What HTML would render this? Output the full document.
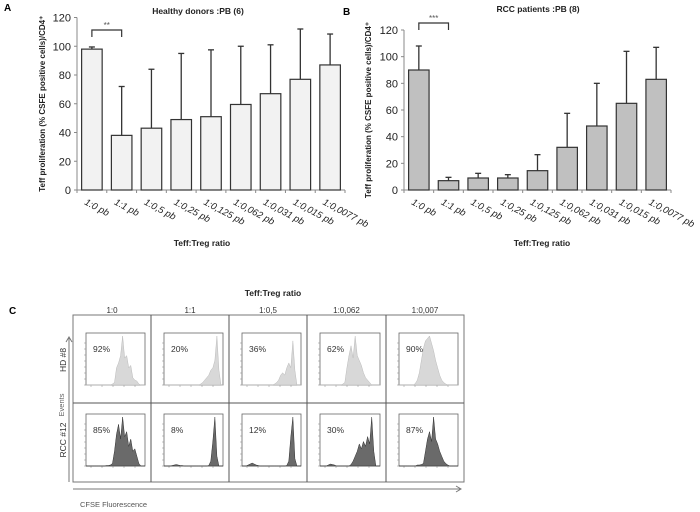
<!DOCTYPE html>
<html><head><meta charset="utf-8"><style>
body{margin:0;background:#fff}
svg{display:block;font-family:"Liberation Sans",sans-serif}
</style></head><body>
<svg id="s" width="700" height="512" viewBox="0 0 700 512">
<text x="4" y="11" font-size="10" font-weight="bold">A</text>
<text x="343" y="15" font-size="10" font-weight="bold">B</text>
<text x="9" y="314" font-size="10" font-weight="bold">C</text>
<g id="gA"></g>
<g id="gB"></g>
<g id="gC"></g>
</svg>
<script>
const categories=["1:0 pb","1:1 pb","1:0,5 pb","1:0,25 pb","1:0,125 pb","1:0,062 pb","1:0,031 pb","1:0,015 pb","1:0,0077 pb"];
const valuesA=[98,38,43,49,51,59.5,67,77,87];
const errTopA=[99.5,72,84,95,97.5,100,101,112,108.5];
const valuesB=[90,7,9,9,14.5,32,48,65,83];
const errTopB=[108,9.5,12.5,11.5,26.5,57.5,80,104,107];
const yTicks=[0,20,40,60,80,100,120];
const colLabels=["1:0","1:1","1:0,5","1:0,062","1:0,007"];
const rowLabels=["HD #8","RCC #12"];
const pctHD=["92%","20%","36%","62%","90%"];
const pctRCC=["85%","8%","12%","30%","87%"];
const histHD=[
[0,0,0,0,0,0,0,0,0,0,0,0,0,0.02,0.05,0.35,0.45,0.6,1,0.55,0.6,0.35,0.4,0.15,0.1,0.08,0.02,0,0,0],
[0,0,0,0,0,0,0,0,0,0,0,0,0,0,0,0,0,0,0.02,0.05,0.1,0.15,0.2,0.3,0.35,0.5,1,0.3,0,0],
[0,0,0,0,0,0,0,0,0,0,0,0,0,0,0,0,0.02,0.05,0.1,0.2,0.25,0.2,0.35,0.45,0.35,0.9,0.3,0,0,0],
[0,0,0,0,0,0,0,0,0,0,0,0.02,0.05,0.35,0.6,0.8,0.55,1,0.6,0.5,0.4,0.25,0.15,0.1,0.05,0,0,0,0,0],
[0,0,0,0,0,0,0,0,0.03,0.1,0.25,0.5,0.75,0.9,0.95,1,0.85,0.7,0.5,0.35,0.2,0.1,0.05,0.02,0,0,0,0,0,0]];
const histRCC=[
[0,0,0,0,0,0,0,0,0,0,0.01,0.01,0.02,0.05,0.3,0.65,0.85,0.55,1,0.6,0.7,0.4,0.55,0.3,0.35,0.2,0.05,0,0,0],
[0,0,0,0,0.01,0.02,0.03,0.02,0.01,0.01,0,0,0,0,0,0,0,0,0,0,0,0,0.01,0.1,0.5,1,0.2,0,0,0],
[0,0,0,0.02,0.04,0.06,0.04,0.02,0.01,0,0,0,0,0,0,0,0,0,0,0,0,0,0.01,0.1,0.6,1,0.15,0,0,0],
[0,0,0,0,0.02,0.04,0.03,0.02,0,0,0,0,0,0,0,0.03,0.1,0.2,0.3,0.45,0.35,0.5,0.4,0.6,0.45,1,0.3,0,0,0],
[0,0,0,0,0,0,0,0,0,0.02,0.02,0.03,0.05,0.3,0.55,0.7,0.5,1,0.55,0.45,0.3,0.2,0.1,0.05,0.02,0,0,0,0,0]];
const NS="http://www.w3.org/2000/svg";
function mk(p,t,a,txt){const e=document.createElementNS(NS,t);for(const k in a)e.setAttribute(k,a[k]);if(txt!==undefined)e.textContent=txt;p.appendChild(e);return e;}

function barChart(g,o,vals,errs,fill){
  const y=v=>o.y0-(v/120)*(o.y0-o.y120);
  const slot=(o.x1-o.x0)/categories.length;
  const xc=i=>o.x0+slot*(i+0.5);
  const t=mk(g,'text',{x:o.tx,y:o.ty,'font-size':8.5,'font-weight':'bold','text-anchor':'middle',fill:'#222'},o.title);
  
  const ax=mk(g,'line',{x1:o.x0,x2:o.x0,y1:o.y120,y2:o.y0,stroke:'#888','stroke-width':1});
  
  const bx=mk(g,'line',{x1:o.x0,x2:o.x1,y1:o.y0,y2:o.y0,stroke:'#888','stroke-width':1});
  
  yTicks.forEach(v=>{
    mk(g,'line',{x1:o.x0-3,x2:o.x0,y1:y(v),y2:y(v),stroke:'#888'});
    const l=mk(g,'text',{x:o.x0-6,y:y(v)+4,'font-size':11,'text-anchor':'end',fill:'#222'},v);
    
  });
  for(let i=0;i<=categories.length;i++)mk(g,'line',{x1:o.x0+slot*i,x2:o.x0+slot*i,y1:o.y0,y2:o.y0+3,stroke:'#888'});
  vals.forEach((v,i)=>{
    const w=slot*0.69;
    const eb=mk(g,'line',{x1:xc(i),x2:xc(i),y1:y(errs[i]),y2:y(v),stroke:'#333','stroke-width':1.3});
    
    mk(g,'line',{x1:xc(i)-3,x2:xc(i)+3,y1:y(errs[i]),y2:y(errs[i]),stroke:'#333','stroke-width':1.3});
    const r=mk(g,'rect',{x:xc(i)-w/2,y:y(v),width:w,height:y(0)-y(v),fill:fill,stroke:'#333','stroke-width':1.2});
    
    const lx=xc(i)-8,ly=o.y0+14;
    const l=mk(g,'text',{x:lx,y:ly,'font-size':9.5,fill:'#222','font-style':'italic',transform:`rotate(28 ${lx} ${ly})`},categories[i]);
    
  });
  const by=o.by;
  mk(g,'path',{d:`M${xc(0)} ${by+7}V${by}H${xc(1)}V${by+7}`,fill:'none',stroke:'#333','stroke-width':1.2});
  const st=mk(g,'text',{x:(xc(0)+xc(1))/2,y:by-2,'font-size':8,'text-anchor':'middle',fill:'#555'},o.stars);
  
  const yl=mk(g,'text',{x:o.ylx,y:(o.y0+o.y120)/2,'font-size':8,'font-weight':'bold','text-anchor':'middle',fill:'#222',transform:`rotate(-90 ${o.ylx} ${(o.y0+o.y120)/2})`},'Teff proliferation (% CSFE positive cells)/CD4⁺');
  
  const xl=mk(g,'text',{x:o.tx+4,y:246,'font-size':8.5,'font-weight':'bold','text-anchor':'middle',fill:'#222'},'Teff:Treg ratio');
  
}
barChart(document.getElementById('gA'),{x0:77,x1:345,y0:190,y120:17.5,tx:198,ty:14,title:'Healthy donors :PB (6)',by:30,stars:'**',ylx:45},valuesA,errTopA,'#f2f2f2');
barChart(document.getElementById('gB'),{x0:404,x1:671,y0:190,y120:30,tx:538,ty:12,title:'RCC patients :PB (8)',by:23,stars:'***',ylx:371},valuesB,errTopB,'#c0c0c0');

// Panel C
const g=document.getElementById('gC');
const t=mk(g,'text',{x:273,y:296,'font-size':8.5,'font-weight':'bold','text-anchor':'middle',fill:'#222'},'Teff:Treg ratio');

const colX=[73,151,229,307,386,464];
const rowY=[315,403,482];
const frame=mk(g,'rect',{x:73,y:315,width:391,height:167,fill:'none',stroke:'#777','stroke-width':1});

for(let c=1;c<5;c++)mk(g,'line',{x1:colX[c],x2:colX[c],y1:315,y2:482,stroke:'#555','stroke-width':1});
mk(g,'line',{x1:73,x2:464,y1:403,y2:403,stroke:'#555'});
colLabels.forEach((l,c)=>{const e=mk(g,'text',{x:(colX[c]+colX[c+1])/2,y:313,'font-size':8,'text-anchor':'middle',fill:'#333'},l);
});
rowLabels.forEach((l,r)=>{const cy=r?440:360;const e=mk(g,'text',{x:66,y:cy,'font-size':8.5,'text-anchor':'middle',fill:'#333',transform:`rotate(-90 66 ${cy})`},l);
});
mk(g,'path',{d:'M69 482V338M66 342L69 337L72 342',fill:'none',stroke:'#777'});
const ev=mk(g,'text',{x:64,y:405,'font-size':7.5,'text-anchor':'middle',fill:'#666',transform:'rotate(-90 64 405)'},'Events');

mk(g,'path',{d:'M73 489H460M456 486L461 489L456 492',fill:'none',stroke:'#777'});
const cf=mk(g,'text',{x:80,y:507,'font-size':7.5,fill:'#555'},'CFSE Fluorescence');

[[histHD,pctHD,'#d8d8d8','#bbb'],[histRCC,pctRCC,'#6a6a6a','#333']].forEach(([H,P,f,s],r)=>{
  for(let c=0;c<5;c++){
    const bx0=colX[c]+13,bx1=colX[c+1]-6,by0=r?414:333,by1=r?466:385;
    const box=mk(g,'rect',{x:bx0,y:by0,width:bx1-bx0,height:by1-by0,fill:'#fff',stroke:'#666','stroke-width':0.8});
    
    for(let k=0;k<8;k++)mk(g,'line',{x1:bx0-2,x2:bx0,y1:by1-k*6,y2:by1-k*6,stroke:'#888','stroke-width':0.5});
    for(let k=0;k<5;k++){const tx=bx0+5+k*11;mk(g,'line',{x1:tx,x2:tx,y1:by1,y2:by1+2,stroke:'#888','stroke-width':0.5});}
    const h=H[c],n=h.length,sx=(bx1-bx0)/(n-1);
    let d=`M${bx0} ${by1}`;h.forEach((v,i)=>{d+=`L${bx0+i*sx} ${by1-v*(by1-by0-3)}`});d+=`L${bx1} ${by1}Z`;
    const p=mk(g,'path',{d:d,fill:f,stroke:s,'stroke-width':0.5});
    
    const pt=mk(g,'text',{x:bx0+7,y:by0+19,'font-size':8.5,fill:'#333'},P[c]);
    
  }
});
</script>
</body></html>
